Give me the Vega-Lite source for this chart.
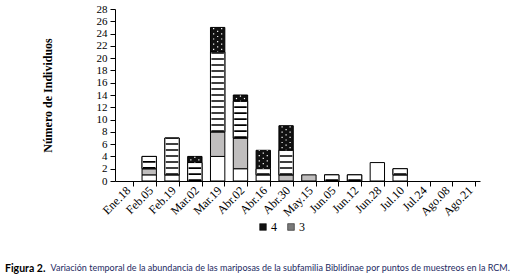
{
  "$schema": "https://vega.github.io/schema/vega-lite/v6.json",
  "autosize": "none",
  "width": 365,
  "height": 172,
  "padding": {"left": 115, "top": 9, "right": 35, "bottom": 98},
  "background": "white",
  "config": {"view": {"stroke": null}},
  "title": {
    "text": "Figura 2.",
    "orient": "bottom",
    "anchor": "start",
    "frame": "group",
    "font": "Lato",
    "fontSize": 10.5,
    "fontWeight": "bold",
    "color": "#000000",
    "dx": -110,
    "dy": -18,
    "offset": 10
  },
  "data": {
    "values": [
      {"fecha": "Feb.05", "serie": "1", "n": 1},
      {"fecha": "Feb.05", "serie": "2", "n": 1},
      {"fecha": "Feb.05", "serie": "3", "n": 2},
      {"fecha": "Feb.19", "serie": "1", "n": 1},
      {"fecha": "Feb.19", "serie": "3", "n": 6},
      {"fecha": "Mar.02", "serie": "3", "n": 3},
      {"fecha": "Mar.02", "serie": "4", "n": 1},
      {"fecha": "Mar.19", "serie": "1", "n": 4},
      {"fecha": "Mar.19", "serie": "2", "n": 4},
      {"fecha": "Mar.19", "serie": "3", "n": 13},
      {"fecha": "Mar.19", "serie": "4", "n": 4},
      {"fecha": "Abr.02", "serie": "1", "n": 2},
      {"fecha": "Abr.02", "serie": "2", "n": 5},
      {"fecha": "Abr.02", "serie": "3", "n": 6},
      {"fecha": "Abr.02", "serie": "4", "n": 1},
      {"fecha": "Abr.16", "serie": "1", "n": 1},
      {"fecha": "Abr.16", "serie": "3", "n": 1},
      {"fecha": "Abr.16", "serie": "4", "n": 3},
      {"fecha": "Abr.30", "serie": "2", "n": 1},
      {"fecha": "Abr.30", "serie": "3", "n": 4},
      {"fecha": "Abr.30", "serie": "4", "n": 4},
      {"fecha": "May.15", "serie": "2", "n": 1},
      {"fecha": "Jun.05", "serie": "3", "n": 1},
      {"fecha": "Jun.12", "serie": "3", "n": 1},
      {"fecha": "Jun.28", "serie": "1", "n": 3},
      {"fecha": "Jul.10", "serie": "1", "n": 1},
      {"fecha": "Jul.10", "serie": "3", "n": 1}
    ]
  },
  "transform": [
    {"stack": "n", "groupby": ["fecha"], "sort": [{"field": "serie", "order": "ascending"}], "as": ["y0", "y1"]}
  ],
  "encoding": {
    "x": {
      "field": "fecha",
      "type": "nominal",
      "sort": null,
      "scale": {
        "type": "band",
        "domain": ["Ene.18", "Feb.05", "Feb.19", "Mar.02", "Mar.19", "Abr.02", "Abr.16", "Abr.30", "May.15", "Jun.05", "Jun.12", "Jun.28", "Jul.10", "Jul.24", "Ago.08", "Ago.21"],
        "paddingInner": 0.37,
        "paddingOuter": 0.185
      },
      "axis": {
        "title": "Variación temporal de la abundancia de las mariposas de la subfamilia Biblidinae por puntos de muestreos en la RCM.",
        "titleX": -65,
        "titleY": 86,
        "titleAlign": "left",
        "titleAnchor": null,
        "titleBaseline": "middle",
        "titleFont": "Lato",
        "titleFontSize": 9,
        "titleFontWeight": "normal",
        "titleColor": "#1d2a62",
        "bandPosition": 1,
        "labelOffset": 2,
        "labelAngle": -45,
        "labelAlign": "right",
        "labelBaseline": "middle",
        "labelFont": "Liberation Serif",
        "labelFontSize": 12,
        "labelColor": "#000000",
        "labelPadding": 2,
        "labelOverlap": false,
        "tickSize": 5,
        "tickColor": "#000000",
        "domainColor": "#000000",
        "grid": false
      }
    },
    "y": {
      "field": "y0",
      "type": "quantitative",
      "scale": {"domain": [0, 28], "nice": false},
      "axis": {
        "title": "Número de Individuos",
        "titleX": -68,
        "titleY": 86,
        "titleAngle": -90,
        "titleAlign": "center",
        "titleBaseline": "middle",
        "titleFont": "Liberation Serif",
        "titleFontSize": 12,
        "titleFontWeight": "bold",
        "titleColor": "#000000",
        "values": [0, 2, 4, 6, 8, 10, 12, 14, 16, 18, 20, 22, 24, 26, 28],
        "labelFont": "Liberation Serif",
        "labelFontSize": 11,
        "labelColor": "#000000",
        "labelPadding": 3,
        "labelFlush": false,
        "labelOverlap": false,
        "tickSize": 5,
        "tickColor": "#000000",
        "domainColor": "#000000",
        "grid": false
      }
    },
    "y2": {"field": "y1"}
  },
  "layer": [
    {
      "mark": {"type": "bar", "stroke": "#000000", "strokeWidth": 1},
      "encoding": {
        "fill": {
          "field": "serie",
          "type": "nominal",
          "scale": {"domain": ["4", "3", "2", "1"], "range": ["#111111", "#7a7a7a", "#c0bebe", "#ffffff"]},
          "legend": {
            "values": ["4", "3"],
            "title": null,
            "orient": "none",
            "direction": "horizontal",
            "legendX": 142,
            "legendY": 212,
            "symbolType": "square",
            "symbolSize": 45,
            "symbolStrokeColor": "#000000",
            "symbolStrokeWidth": 0.5,
            "labelFont": "Liberation Serif",
            "labelFontSize": 12,
            "labelColor": "#000000",
            "labelOffset": 2,
            "columnPadding": 8
          }
        }
      }
    },
    {
      "transform": [{"filter": "datum.serie === '3'"}],
      "mark": {"type": "bar", "fill": "#ffffff", "stroke": "#000000", "strokeWidth": 1}
    },
    {
      "transform": [{"filter": "datum.serie === '3'"}],
      "mark": {"type": "rule", "color": "#000000", "strokeWidth": 12.5, "strokeDash": [1.7, 4.3], "strokeCap": "butt"}
    },
    {
      "transform": [{"filter": "datum.serie === '4'"}],
      "mark": {"type": "rule", "color": "#ffffff", "strokeWidth": 1.2, "strokeDash": [1.2, 4], "strokeDashOffset": -2, "xOffset": -4, "strokeCap": "butt"}
    },
    {
      "transform": [{"filter": "datum.serie === '4'"}],
      "mark": {"type": "rule", "color": "#ffffff", "strokeWidth": 1.2, "strokeDash": [1.2, 4], "strokeDashOffset": -4.5, "xOffset": 0, "strokeCap": "butt"}
    },
    {
      "transform": [{"filter": "datum.serie === '4'"}],
      "mark": {"type": "rule", "color": "#ffffff", "strokeWidth": 1.2, "strokeDash": [1.2, 4], "strokeDashOffset": -2, "xOffset": 4, "strokeCap": "butt"}
    }
  ]
}
